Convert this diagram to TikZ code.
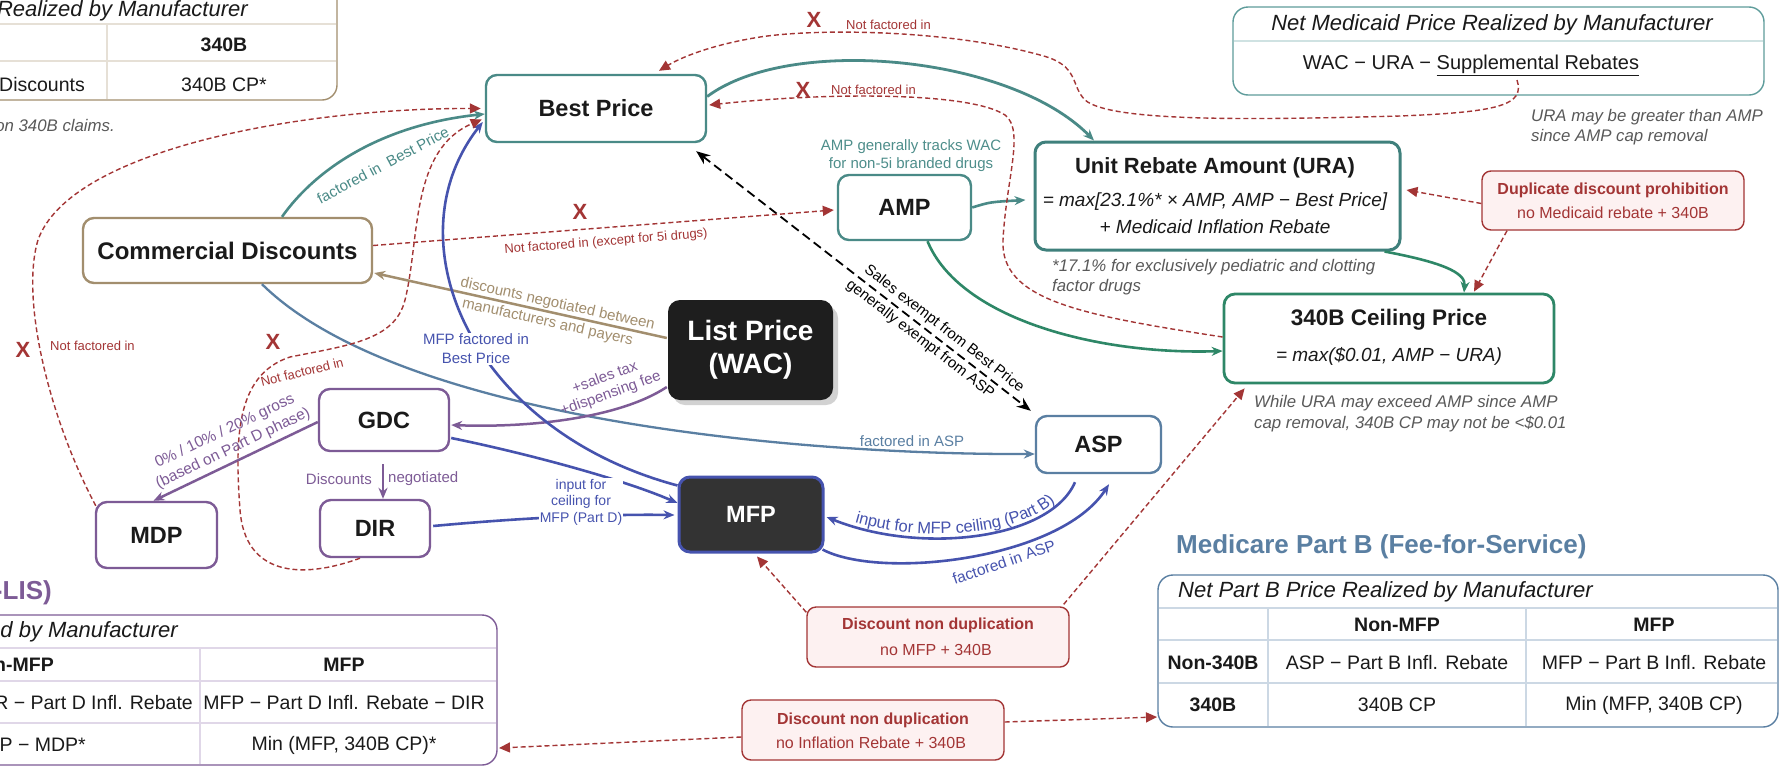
\documentclass[tikz,border=0pt]{standalone}
\usepackage{fontspec}
\setmainfont{Liberation Sans}
\usetikzlibrary{arrows.meta,calc,decorations.text}
\definecolor{teal1}{HTML}{4A8A87}
\definecolor{teal2}{HTML}{3F807C}
\definecolor{green1}{HTML}{2E8767}
\definecolor{tan1}{HTML}{A28E6E}
\definecolor{purp}{HTML}{7D5B96}
\definecolor{mblue}{HTML}{4653AE}
\definecolor{sblue}{HTML}{5A7FA2}
\definecolor{red1}{HTML}{A33535}
\definecolor{gray1}{HTML}{595959}
\definecolor{pinkfill}{HTML}{FDF1F1}
\definecolor{txt}{HTML}{1A1A1A}
\definecolor{lpblack}{HTML}{1E1E1E}
\definecolor{mfpfill}{HTML}{333333}
\definecolor{shadowgray}{HTML}{D2D2D2}
\definecolor{medteal}{HTML}{5E9C9B}
\definecolor{meddiv}{HTML}{CFE2E2}
\definecolor{tandiv}{HTML}{E6E0D6}
\definecolor{pbdiv}{HTML}{CCD8E4}
\definecolor{pddiv}{HTML}{E0D7E8}
\definecolor{tealtxt}{HTML}{4E8E8B}
\newcommand{\myfs}[2]{\fontsize{#1}{#2}\selectfont}
\begin{document}
\begin{tikzpicture}[x=1pt,y=-1pt,
  nbox/.style={draw, rounded corners=11pt, line width=2.4pt, fill=white, text=txt, inner sep=0pt, align=center, font=\myfs{23.5}{28}\bfseries},
  rbox/.style={draw=red1, fill=pinkfill, rounded corners=9pt, line width=1.4pt, inner sep=0pt, minimum width=262pt, minimum height=60pt},
  lbl/.style={inner sep=1pt, align=center, font=\myfs{15}{19}},
  sarr/.style={-{Stealth[length=11pt,width=9pt]}},
  rarr/.style={draw=red1, line width=1.4pt, dash pattern=on 5pt off 3pt, -{Triangle[length=11pt,width=10pt]}},
  xmark/.style={text=red1, font=\myfs{22}{26}\bfseries, inner sep=0pt},
  nfi/.style={text=red1, font=\myfs{13}{16}, inner sep=0pt},
  note/.style={text=gray1, font=\myfs{16.8}{20.5}\itshape, align=left, inner sep=0pt},
  tbl/.style={text=txt, inner sep=0pt, font=\myfs{19.5}{23}},
  tblb/.style={text=txt, inner sep=0pt, font=\myfs{19.5}{23}\bfseries},
  ttl/.style={text=txt, inner sep=0pt, font=\myfs{22}{26}\itshape},
  rtitle/.style={text=red1, inner sep=0pt, font=\myfs{16}{19}\bfseries},
  rsub/.style={text=red1, inner sep=0pt, font=\myfs{16}{19}},
]
\useasboundingbox (0,0) rectangle (1779,766);
\clip (0,0) rectangle (1779,766);
\fill[white] (0,0) rectangle (1779,766);

% ---------- tables ----------
% top-left (commercial)
\draw[tan1, line width=1.4pt, fill=white, rounded corners=15pt] (-60,-30) rectangle (337,100);
\draw[tandiv, line width=1.3pt] (-60,24) -- (336,24) (-60,61) -- (336,61) (107,24) -- (107,99);
\node[ttl, anchor=east] (cltitle) at (248,11) {Net Commercial Price Realized by Manufacturer};
\node[tblb] (clh) at (224,45) {340B};
\node[tbl, anchor=east] (clr1) at (85,85) {Discounts};
\node[tbl] (clr2) at (224,85) {340B CP*};
\node[note, anchor=east] (clnote) at (115,125) {on 340B claims.};

% Medicaid
\draw[medteal, line width=1.4pt, fill=white, rounded corners=15pt] (1233,7) rectangle (1764,95);
\draw[meddiv, line width=1.3pt] (1234,41) -- (1763,41);
\node[ttl] (medt) at (1492,25) {Net Medicaid Price Realized by Manufacturer};
\node[tbl, font=\myfs{20}{24}] (medf) at (1471,65) {WAC − URA − \underline{Supplemental Rebates}};
\coordinate (supp) at (1517,80);

% Part B
\node[font=\myfs{26}{30}\bfseries, text=sblue, anchor=west, inner sep=0pt] (pbtitle) at (1176,547) {Medicare Part B (Fee-for-Service)};
\draw[sblue, line width=1.4pt, fill=white, rounded corners=15pt] (1158,575) rectangle (1778,727);
\draw[pbdiv, line width=1.3pt] (1159,608) -- (1777,608) (1159,640) -- (1777,640) (1159,683) -- (1777,683)
   (1268,608) -- (1268,726) (1526,608) -- (1526,726);
\coordinate (pbl) at (1157,717);
\node[ttl, anchor=west] (pbt) at (1178,592) {Net Part B Price Realized by Manufacturer};
\node[tblb] at (1397,625) {Non-MFP};
\node[tblb] at (1654,625) {MFP};
\node[tblb] at (1213,663) {Non-340B};
\node[tbl] at (1397,663) {ASP − Part B Infl. Rebate};
\node[tbl] at (1654,663) {MFP − Part B Infl. Rebate};
\node[tblb] at (1213,705) {340B};
\node[tbl] at (1397,705) {340B CP};
\node[tbl] at (1654,705) {Min (MFP, 340B CP)};

% Part D
\node[font=\myfs{26}{30}\bfseries, text=purp, anchor=east, inner sep=0pt] (pdtitle) at (52,593) {Medicare Part D (Non-LIS)};
\draw[purp, line width=1.4pt, fill=white, rounded corners=15pt] (-60,615) rectangle (497,765);
\draw[pddiv, line width=1.3pt] (-60,648) -- (496,648) (-60,681) -- (496,681) (-60,723) -- (496,723) (200,648) -- (200,764);
\coordinate (pdr) at (499,748);
\node[ttl, anchor=east] at (178,632) {Net Part D Price Realized by Manufacturer};
\node[tblb, anchor=east] at (54,665) {Non-MFP};
\node[tblb] at (344,665) {MFP};
\node[tbl, anchor=east] at (193,703) {WAC − DIR − Part D Infl. Rebate};
\node[tbl] at (344,703) {MFP − Part D Infl. Rebate − DIR};
\node[tbl, anchor=east] at (86,745) {340B CP − MDP*};
\node[tbl] at (344,745) {Min (MFP, 340B CP)*};

% ---------- main nodes ----------
\node[nbox, draw=tan1, minimum width=289pt, minimum height=65pt, font=\myfs{24}{28}\bfseries] (cd) at (227.5,250.5) {Commercial Discounts};
\node[nbox, draw=teal1, minimum width=220pt, minimum height=67pt] (bp) at (596,108.5) {Best Price};
\node[nbox, draw=teal1, minimum width=133pt, minimum height=65pt] (amp) at (904.5,207.5) {AMP};
\node[nbox, draw=teal2, line width=3pt, minimum width=365pt, minimum height=108pt] (ura) at (1217.5,196) {};
\node[text=txt, inner sep=0pt, font=\myfs{22}{26}\bfseries] at (1215,168) {Unit Rebate Amount (URA)};
\node[text=txt, inner sep=0pt, font=\myfs{19}{23}\itshape] at (1215,202) {= max[23.1\%* × AMP, AMP − Best Price]};
\node[text=txt, inner sep=0pt, font=\myfs{19}{23}\itshape] at (1215,227) {+ Medicaid Inflation Rebate};
\node[nbox, draw=green1, line width=2.8pt, minimum width=330pt, minimum height=89pt] (cp) at (1389,338.5) {};
\node[text=txt, inner sep=0pt, font=\myfs{22.5}{26}\bfseries] at (1389,320) {340B Ceiling Price};
\node[text=txt, inner sep=0pt, font=\myfs{19}{23}\itshape] at (1389,356) {= max(\$0.01, AMP − URA)};
\node[nbox, draw=sblue, minimum width=125pt, minimum height=57pt] (asp) at (1098.5,444.5) {ASP};
\fill[shadowgray, rounded corners=12pt] (673,306) rectangle (838,405);
\node[nbox, draw=none, fill=lpblack, text=white, minimum width=165pt, minimum height=100pt, rounded corners=12pt, font=\myfs{28}{33}\bfseries] (lp) at (750.5,350) {List Price\\(WAC)};
\node[nbox, draw=mblue, line width=3pt, fill=mfpfill, text=white, minimum width=144pt, minimum height=75pt] (mfp) at (751,514.5) {MFP};
\node[nbox, draw=purp, minimum width=130pt, minimum height=62pt] (gdc) at (384,420) {GDC};
\node[nbox, draw=purp, minimum width=121pt, minimum height=66pt] (mdp) at (156.5,535) {MDP};
\node[nbox, draw=purp, minimum width=110pt, minimum height=57pt] (dir) at (375,528.5) {DIR};
\node[rbox, minimum height=59pt] (dup) at (1613,200.5) {};
\node[rtitle] at (1613,190) {Duplicate discount prohibition};
\node[rsub] at (1613,213) {no Medicaid rebate + 340B};
\node[rbox] (b1) at (938,637) {};
\node[rtitle] at (938,625) {Discount non duplication};
\node[rsub] at (936,650) {no MFP + 340B};
\node[rbox] (b2) at (873,730) {};
\node[rtitle] at (873,720) {Discount non duplication};
\node[rsub] at (871,743) {no Inflation Rebate + 340B};

% ---------- connectors ----------
% teal
\draw[teal1, line width=2.6pt, sarr] ($(cd.north)+(54.5,0)$) .. controls (315,170) and (380,125) .. ($(bp.west)+(0,5.5)$);
\draw[teal1, line width=2.8pt, sarr] ($(bp.east)+(0,-12)$) .. controls (790,35) and (1010,55) .. ($(ura.north)+(-123.5,0)$);
\draw[teal1, line width=2.6pt, sarr] (amp.east) .. controls (990,202) .. ($(ura.west)+(-8,4)$);
% green
\draw[green1, line width=2.6pt, sarr] ($(amp.south)+(23,0)$) .. controls (960,320) and (1100,355) .. ($(cp.west)+(0,12.5)$);
\draw[green1, line width=2.6pt, sarr] ($(ura.south east)+(-17,0)$) .. controls (1440,262) and (1466,272) .. ($(cp.north)+(75,0)$);
% tan
\draw[tan1, line width=2.5pt, sarr] ($(lp.west)+(0,-12)$) --
   node[pos=0.38, sloped, above=0pt, lbl, text=tan1]{discounts negotiated between}
   node[pos=0.40, sloped, below=1.5pt, lbl, text=tan1]{manufacturers and payers}
   ($(cd.east)+(1,22.5)$);
% steel blue
\draw[sblue, line width=2.3pt, sarr] ($(cd.south)+(34.5,0)$) .. controls (400,420) and (800,455) .. ($(asp.west)+(0,9.5)$);
% purple
\draw[purp, line width=2.5pt, sarr] ($(lp.west)+(0,37)$) .. controls (620,418) and (530,428) .. ($(gdc.east)+(1,5)$);
\draw[purp, line width=2.5pt, sarr] ($(gdc.west)+(0,2)$) -- ($(mdp.north)+(-3,0)$);
\draw[purp, line width=2.5pt, sarr] ($(gdc.south)+(-1,12)$) -- ($(dir.north)+(8,0)$);
% blue (MFP)
\draw[mblue, line width=2.6pt, sarr] ($(gdc.east)+(1,18)$) .. controls (520,452) and (620,478) .. ($(mfp.west)+(0,-11.5)$);
\draw[mblue, line width=2.6pt, sarr] ($(dir.east)+(2,-2.5)$) .. controls (520,518) and (600,514) .. ($(mfp.west)+(-3,0.5)$);
\draw[mblue, line width=2.6pt, sarr] ($(mfp.north west)+(0,10)$) .. controls (470,430) and (390,240) .. ($(bp.west)+(-2,13.5)$);
\draw[mblue, line width=2.6pt, sarr] ($(asp.south)+(-23.5,8)$) .. controls (1050,540) and (920,555) .. ($(mfp.east)+(2,2.5)$);
\draw[mblue, line width=2.6pt, sarr] ($(mfp.south east)+(-2,-4)$) .. controls (880,580) and (1060,560) .. ($(asp.south)+(10.5,10)$);
\path[decorate, decoration={text along path, text={|\myfs{16.5}{19}|input for MFP ceiling (Part B)}, text color=mblue, text align=center, raise=4pt}]
   ($(mfp.east)+(2,2.5)$) .. controls (920,555) and (1050,540) .. ($(asp.south)+(-23.5,8)$);
% black dashed
\draw[black, line width=1.8pt, dash pattern=on 9pt off 5pt, {Stealth[length=14pt,width=11pt]}-{Stealth[length=14pt,width=11pt]}]
   ($(bp.south east)+(-11,8)$) --
   node[pos=0.72, sloped, above=2.5pt, lbl, text=black]{Sales exempt from Best Price}
   node[pos=0.69, sloped, below=2.5pt, lbl, text=black]{generally exempt from ASP}
   ($(asp.north west)+(-4,-4)$);
% red dashed
\draw[rarr] ($(dup.west)+(0,3)$) -- ($(ura.east)+(5,-6)$);
\draw[rarr] ($(dup.south)+(-106,0)$) -- ($(cp.north)+(85,-1)$);
\draw[rarr] (supp) .. controls (1525,105) and (1500,112) .. (1400,116) .. controls (1250,120) and (1110,122) .. (1085,100)
   .. controls (1070,85) and (1080,65) .. (1040,55) .. controls (950,30) and (820,28) .. (760,37)
   .. controls (710,45) and (680,58) .. ($(bp.north)+(63,-3)$);
\draw[rarr] ($(cp.west)+(0,-1.5)$) .. controls (1080,315) and (1000,300) .. (1003,240) .. controls (1006,180) and (1025,130) .. (1005,115)
   .. controls (970,92) and (830,92) .. ($(bp.east)+(2,-3.5)$);
\draw[rarr] ($(cd.east)+(0,-5)$) -- ($(amp.west)+(-3,2.5)$);
\draw[rarr] ($(mdp.north west)+(1,5)$) .. controls (50,420) and (20,300) .. (38,240) .. controls (70,150) and (300,108) .. ($(bp.west)+(-4,0)$);
\draw[rarr] ($(dir.south)+(-15,0)$) .. controls (300,580) and (245,575) .. (240,510) .. controls (235,440) and (235,375) .. (290,357)
   .. controls (350,345) and (395,340) .. (405,300) .. controls (420,240) and (410,150) .. ($(bp.west)+(-3,11)$);
\draw[rarr] ($(b1.north west)+(0,6)$) -- ($(mfp.south)+(6,3)$);
\draw[rarr] ($(b1.north east)+(-6,-2)$) -- ($(cp.south west)+(22,4)$);
\draw[rarr] ($(b2.east)+(0,-8)$) -- (pbl);
\draw[rarr] ($(b2.west)+(0,7)$) -- (pdr);

% ---------- labels ----------
\node[lbl, text=teal1, rotate=28] at (383,165) {factored in~~Best Price};
\node[lbl, text=tealtxt, font=\myfs{15}{18}] at (911,156) {AMP generally tracks WAC\\for non-5i branded drugs};
\node[lbl, text=sblue] at (912,441) {factored in ASP};
\node[lbl, text=purp, rotate=20, font=\myfs{15}{17}] at (608,386) {+sales tax\\+dispensing fee};
\node[lbl, text=purp, rotate=25.5, font=\myfs{15.5}{19}] at (229,440) {0\% / 10\% / 20\% gross\\(based on Part D phase)};
\node[lbl, text=purp, anchor=east] at (373,479) {Discounts};
\node[lbl, text=purp, anchor=west] at (387,479) {negotiated};
\node[lbl, text=mblue, fill=white, font=\myfs{14}{16.5}] at (581,502) {input for\\ceiling for\\MFP (Part D)};
\node[lbl, text=mblue, fill=white] at (476,349) {MFP factored in\\Best Price};
\node[lbl, text=mblue, rotate=19, font=\myfs{15.5}{19}] at (1004,562) {factored in ASP};

\node[xmark] at (814,20) {X};
\node[nfi, anchor=west] at (846,25) {Not factored in};
\node[xmark] at (803,90) {X};
\node[nfi, anchor=west] at (831,90) {Not factored in};
\node[xmark] at (580,212) {X};
\node[nfi, rotate=4.7] at (606,242) {Not factored in (except for 5i drugs)};
\node[xmark] at (23,350) {X};
\node[nfi, anchor=west] at (50,346) {Not factored in};
\node[xmark] at (273,342) {X};
\node[nfi, rotate=14] at (302,372) {Not factored in};

\node[note, anchor=west] at (1531,127) {URA may be greater than AMP\\since AMP cap removal};
\node[note, anchor=west] at (1052,277) {*17.1\% for exclusively pediatric and clotting\\factor drugs};
\node[note, anchor=west] at (1254,413.5) {While URA may exceed AMP since AMP\\cap removal, 340B CP may not be <\$0.01};
\end{tikzpicture}
\end{document}
